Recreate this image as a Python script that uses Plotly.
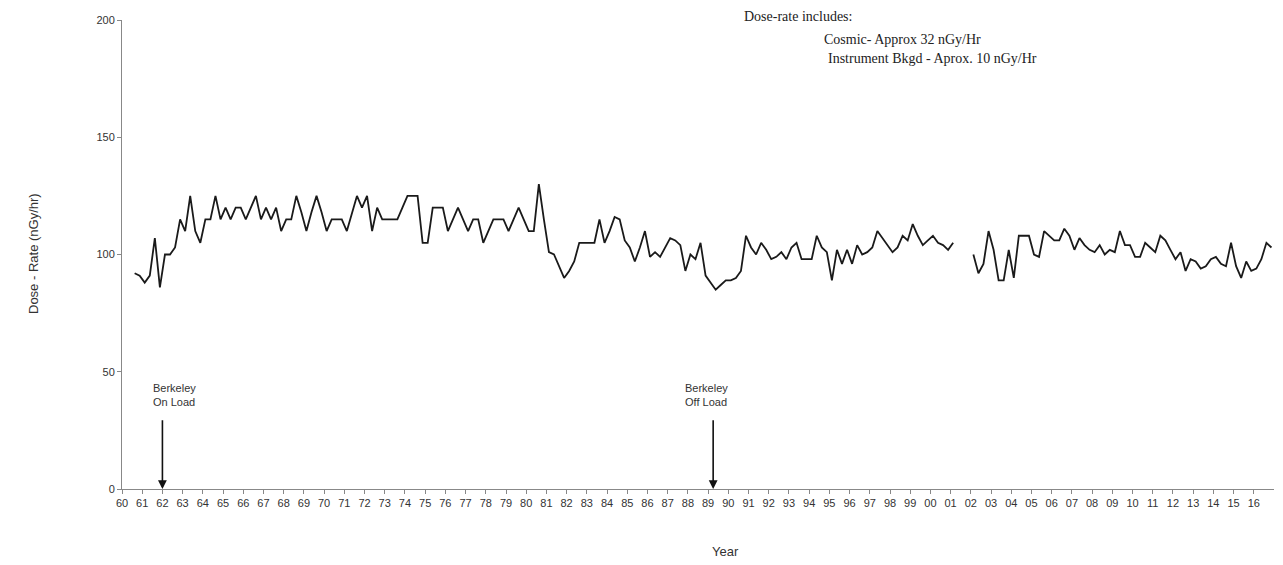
import plotly.graph_objects as go

# Quarterly dose-rate readings (nGy/hr), 1960 Q3 .. 2016 Q4; None = no data
dose_1960s = [92, 91,
              88, 91, 107, 86,
              100, 100, 103, 115,
              110, 125, 110, 105,
              115, 115, 125, 115,
              120, 115, 120, 120,
              115, 120, 125, 115,
              120, 115, 120, 110,
              115, 115, 125, 118,
              110, 118, 125, 118]
dose_1970s = [110, 115, 115, 115,
              110, 118, 125, 120,
              125, 110, 120, 115,
              115, 115, 115, 120,
              125, 125, 125, 105,
              105, 120, 120, 120,
              110, 115, 120, 115,
              110, 115, 115, 105,
              110, 115, 115, 115,
              110, 115, 120, 115]
dose_1980s = [110, 110, 130, 115,
              101, 100, 95, 90,
              93, 97, 105, 105,
              105, 105, 115, 105,
              110, 116, 115, 106,
              103, 97, 103, 110,
              99, 101, 99, 103,
              107, 106, 104, 93,
              100, 98, 105, 91,
              88, 85, 87, 89]
dose_1990s = [89, 90, 93, 108,
              103, 100, 105, 102,
              98, 99, 101, 98,
              103, 105, 98, 98,
              98, 108, 103, 101,
              89, 102, 96, 102,
              96, 104, 100, 101,
              103, 110, 107, 104,
              101, 103, 108, 106,
              113, 108, 104, 106]
dose_2000s = [108, 105, 104, 102,
              105, None, None, None,
              100, 92, 96, 110,
              102, 89, 89, 102,
              90, 108, 108, 108,
              100, 99, 110, 108,
              106, 106, 111, 108,
              102, 107, 104, 102,
              101, 104, 100, 102,
              101, 110, 104, 104]
dose_2010s = [99, 99, 105, 103,
              101, 108, 106, 102,
              98, 101, 93, 98,
              97, 94, 95, 98,
              99, 96, 95, 105,
              95, 90, 97, 93,
              94, 98, 105, 103]

first_year, first_quarter = 1960, 3
year_labels = [f"{y % 100:02d}" for y in range(1960, 2017)]
tick_years = list(range(1960, 2017))

events = [("Berkeley<br>On Load", 1962.0, -11), ("Berkeley<br>Off Load", 1989.25, -30)]

note_lines = ["Dose-rate includes:",
              "Cosmic- Approx 32 nGy/Hr",
              "Instrument Bkgd - Aprox. 10 nGy/Hr"]

values = dose_1960s + dose_1970s + dose_1980s + dose_1990s + dose_2000s + dose_2010s
times = []
for i in range(len(values)):
    qi = (first_quarter - 1) + i
    times.append(first_year + qi // 4 + ((qi % 4) + 0.5) / 4.0)

W, H = 1283, 565
L, R, T, B = 122, 9, 20, 76
PW, PH = W - L - R, H - T - B


def px(x):
    return (x - L) / PW


def py(y):
    return (H - B - y) / PH


fig = go.Figure()
fig.add_trace(go.Scatter(x=times, y=values, mode="lines",
                         line=dict(color="#1a1a1a", width=1.8),
                         connectgaps=False, hoverinfo="skip",
                         showlegend=False))

ann = []
for text, yr, shift in events:
    ann.append(dict(x=yr, y=0, xref="x", yref="y", ax=yr, ay=30,
                    axref="x", ayref="y", showarrow=True, arrowhead=2,
                    arrowsize=1.1, arrowwidth=1.6, arrowcolor="#111",
                    text=""))
    ann.append(dict(x=yr, y=40, xref="x", yref="y", text=text,
                    showarrow=False, xanchor="left", yanchor="middle",
                    xshift=shift, align="left",
                    font=dict(family="Liberation Sans, Arial", size=11,
                              color="#333")))

note_pos = [(742, 16), (822, 39), (826, 59)]
for line, (lx, ly) in zip(note_lines, note_pos):
    ann.append(dict(x=px(lx), y=py(ly), xref="paper", yref="paper",
                    text=line, showarrow=False, xanchor="left", yanchor="middle",
                    font=dict(family="Liberation Serif, Times New Roman",
                              size=14, color="#222")))

ann.append(dict(x=px(33), y=py(254), xref="paper", yref="paper",
                text="Dose - Rate (nGy/hr)", textangle=-90, showarrow=False,
                xanchor="center", yanchor="middle",
                font=dict(family="Liberation Sans, Arial", size=13, color="#333")))
ann.append(dict(x=px(725), y=py(551), xref="paper", yref="paper",
                text="Year", showarrow=False, xanchor="center", yanchor="middle",
                font=dict(family="Liberation Sans, Arial", size=13, color="#333")))

fig.update_layout(
    width=W, height=H,
    margin=dict(l=L, r=R, t=T, b=B, pad=0),
    paper_bgcolor="white", plot_bgcolor="white",
    annotations=ann,
    xaxis=dict(range=[1960, 2017], tickvals=tick_years, ticktext=year_labels,
               ticks="outside", ticklen=4, tickcolor="#888", tickwidth=1,
               showline=True, linecolor="#888", linewidth=1,
               showgrid=False, zeroline=False, tickangle=0,
               tickfont=dict(family="Liberation Sans, Arial", size=11, color="#333")),
    yaxis=dict(range=[0, 200], tickvals=[0, 50, 100, 150, 200],
               ticks="outside", ticklen=4, tickcolor="#888", tickwidth=1,
               showline=True, linecolor="#888", linewidth=1,
               showgrid=False, zeroline=False,
               tickfont=dict(family="Liberation Sans, Arial", size=11, color="#333")),
)

fig.write_html("out.html")
